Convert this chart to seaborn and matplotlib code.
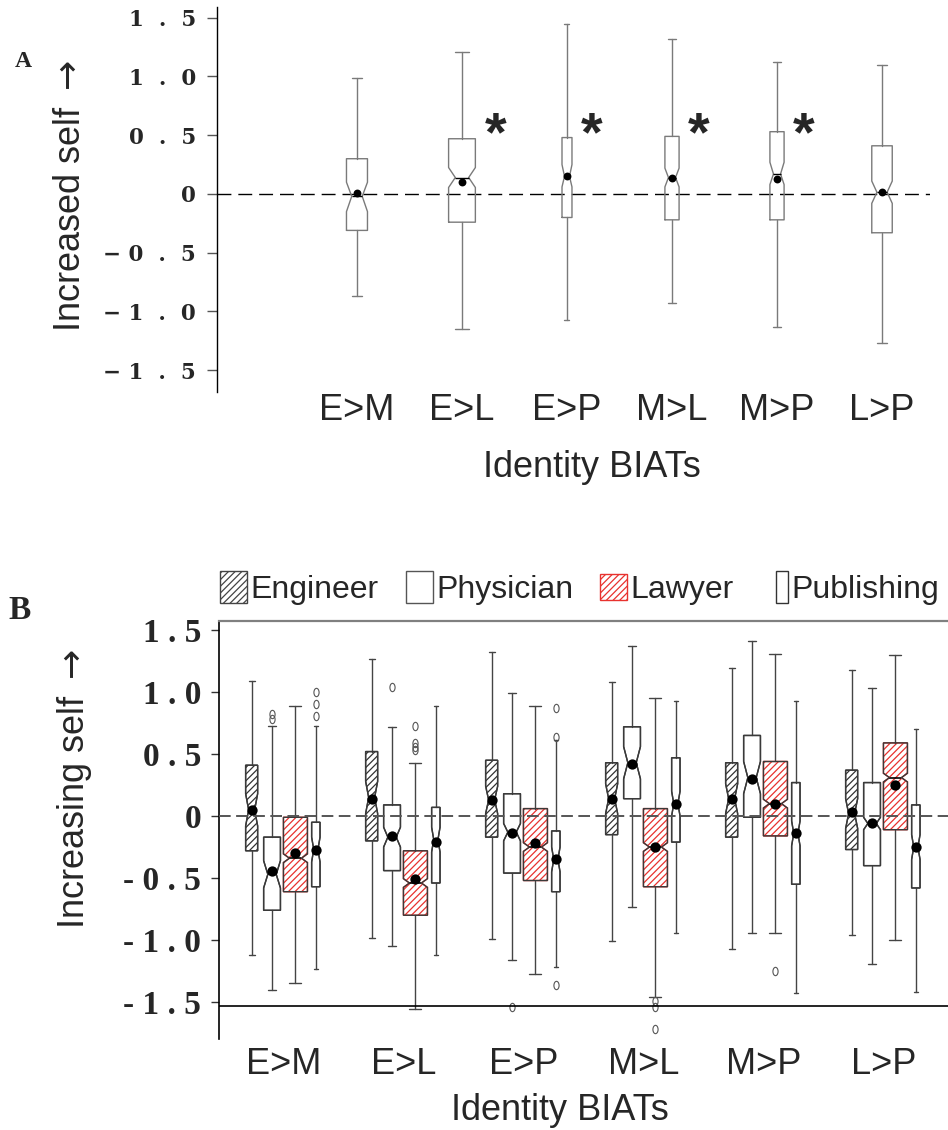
import numpy as np
import matplotlib
matplotlib.use("Agg")
import matplotlib.pyplot as plt
import seaborn as sns
from matplotlib.patches import Patch, PathPatch, Rectangle
from matplotlib.path import Path
from matplotlib.transforms import Affine2D
from matplotlib.legend_handler import HandlerPatch

sns.set_style("white")
plt.rcParams['font.family'] = ['Liberation Sans', 'DejaVu Sans']
plt.rcParams['hatch.linewidth'] = 0.9
plt.rcParams['mathtext.fontset'] = 'dejavusans'

# ---- panel A: identity BIATs, all participants
biats = ['E>M', 'E>L', 'E>P', 'M>L', 'M>P', 'L>P']
a_whislo = [-0.87, -1.15, -1.07, -0.93, -1.13, -1.27]
a_q1 = [-0.31, -0.24, -0.20, -0.22, -0.22, -0.33]
a_med = [-0.02, 0.14, 0.15, 0.14, 0.17, 0.015]
a_q3 = [0.30, 0.47, 0.48, 0.49, 0.53, 0.41]
a_whishi = [0.99, 1.21, 1.45, 1.32, 1.12, 1.10]
a_cilo = [-0.15, 0.055, 0.06, 0.06, 0.08, -0.08]
a_cihi = [0.10, 0.225, 0.25, 0.22, 0.27, 0.11]
a_mean = [0.01, 0.10, 0.15, 0.14, 0.13, 0.02]
a_width = [0.20, 0.255, 0.095, 0.135, 0.135, 0.195]
a_signif = [False, True, True, True, True, False]

# ---- panel B: by career (rows) x BIAT (columns)
careers = ['Engineer', 'Physician', 'Lawyer', 'Publishing']
b_whishi = [[1.09, 1.27, 1.32, 1.08, 1.19, 1.18],
            [0.73, 0.72, 0.99, 1.37, 1.41, 1.03],
            [0.89, 0.43, 0.89, 0.95, 1.31, 1.30],
            [0.73, 0.89, 0.61, 0.93, 0.93, 0.70]]
b_q3 = [[0.41, 0.52, 0.45, 0.43, 0.43, 0.37],
        [-0.17, 0.09, 0.18, 0.72, 0.65, 0.27],
        [-0.01, -0.28, 0.06, 0.06, 0.44, 0.59],
        [-0.05, 0.07, -0.12, 0.47, 0.27, 0.09]]
b_med = [[0.05, 0.15, 0.13, 0.14, 0.14, 0.02],
         [-0.47, -0.17, -0.13, 0.43, 0.31, -0.06],
         [-0.34, -0.54, -0.25, -0.25, 0.10, 0.31],
         [-0.27, -0.19, -0.35, 0.10, -0.14, -0.25]]
b_q1 = [[-0.28, -0.20, -0.17, -0.15, -0.17, -0.27],
        [-0.76, -0.44, -0.46, 0.14, -0.01, -0.40],
        [-0.61, -0.80, -0.52, -0.57, -0.16, -0.11],
        [-0.57, -0.54, -0.61, -0.21, -0.55, -0.58]]
b_whislo = [[-1.12, -0.98, -0.99, -1.01, -1.07, -0.96],
            [-1.40, -1.05, -1.16, -0.73, -0.94, -1.19],
            [-1.35, -1.56, -1.27, -1.46, -0.94, -1.00],
            [-1.23, -1.12, -1.22, -0.94, -1.43, -1.42]]
b_mean = [[0.05, 0.14, 0.13, 0.14, 0.14, 0.03],
          [-0.44, -0.16, -0.14, 0.42, 0.30, -0.06],
          [-0.30, -0.51, -0.22, -0.25, 0.10, 0.25],
          [-0.27, -0.21, -0.35, 0.10, -0.14, -0.25]]
b_ci = [[0.13, 0.13, 0.11, 0.12, 0.12, 0.12],
        [0.11, 0.08, 0.07, 0.13, 0.13, 0.05],
        [0.035, 0.035, 0.035, 0.035, 0.035, 0.035],
        [0.10, 0.10, 0.10, 0.10, 0.10, 0.10]]
b_fliers = [[[], [], [], [], [], []],
            [[0.82, 0.78], [1.04], [-1.54], [], [], []],
            [[], [0.73, 0.59, 0.56, 0.53], [], [-1.49, -1.54, -1.72], [-1.25], []],
            [[1.00, 0.90, 0.81], [], [0.87, 0.64, -1.36], [], [], []]]

yticks = [1.5, 1.0, 0.5, 0, -0.5, -1.0, -1.5]
a_ytick_labels = ['1  .  5', '1  .  0', '0  .  5', '0',
                  '\u2212 0  .  5', '\u2212 1  .  0', '\u2212 1  .  5']
b_ytick_labels = ['1 . 5', '1 . 0', '0 . 5', '0', '- 0 . 5', '- 1 . 0', '- 1 . 5']

# style per career
b_offsets = [-0.27, -0.10, 0.095, 0.265]
b_widths = [0.10, 0.14, 0.20, 0.07]
b_hatch = ['/////', '', '/////', '']
b_hatchcol = ['#333333', '#333333', '#e8322e', '#333333']
red = '#e8322e'

W, H = 948, 1130
fig = plt.figure(figsize=(W / 100, H / 100), dpi=100)


def fig_axes(left, top, right, bottom):
    return fig.add_axes([left / W, 1 - bottom / H, (right - left) / W, (bottom - top) / H])


# ================= Panel A =================
ax_a = fig_axes(217, 7, 930, 392)
pos_a = np.arange(len(biats))
stats_a = [dict(label=b, whislo=a_whislo[i], q1=a_q1[i], med=a_med[i], q3=a_q3[i],
                whishi=a_whishi[i], cilo=a_cilo[i], cihi=a_cihi[i], fliers=[])
           for i, b in enumerate(biats)]
ax_a.axhline(0, color='black', lw=1.0, linestyle=(0, (10, 5)), zorder=1)
ax_a.bxp(stats_a, positions=pos_a, widths=a_width, shownotches=True, showfliers=False,
         boxprops=dict(color='#7a7a7a', lw=1.0),
         whiskerprops=dict(color='#7a7a7a', lw=1.0),
         capprops=dict(color='#7a7a7a', lw=1.0),
         medianprops=dict(color='black', lw=1.0))
sns.scatterplot(x=pos_a, y=a_mean, color='black', s=32, edgecolor='black',
                linewidth=0, zorder=5, legend=False, ax=ax_a)
for i, sig in enumerate(a_signif):
    if sig:
        ax_a.text(pos_a[i] + a_width[i] / 2 + 0.19, 0.37, '*', ha='center', va='baseline',
                  fontsize=40, fontweight='bold', family=['Liberation Sans', 'DejaVu Sans'])

ax_a.set_xlim(-1.333, 5.457)
ax_a.set_ylim(-1.685, 1.591)
ax_a.set_yticks(yticks)
ax_a.set_yticklabels(a_ytick_labels, fontfamily='DejaVu Serif', fontweight='bold', fontsize=15.5)
ax_a.set_xticks(pos_a)
ax_a.set_xticklabels(biats, fontsize=26)
ax_a.tick_params(axis='y', left=True, length=7, width=1, color='#555555', pad=8)
ax_a.tick_params(axis='x', length=0, pad=0.5)
for s in ['top', 'right', 'bottom']:
    ax_a.spines[s].set_visible(False)
ax_a.spines['left'].set_color('black')
ax_a.spines['left'].set_linewidth(1.0)
ax_a.set_xlabel('Identity BIATs', fontsize=26)
ax_a.xaxis.set_label_coords((592 - 217) / 713, (392 - 450) / 385)
ax_a.set_ylabel('Increased self $\\rightarrow$', fontsize=26, va='center')
ax_a.yaxis.set_label_coords((70 - 217) / 713, (392 - 196) / 385)

# ================= Panel B =================
ax_b = fig_axes(219, 621, 948, 1039)
flier_marker = Path.unit_circle().transformed(Affine2D().scale(0.62, 1.0))
grp = np.arange(len(biats))
for k, career in enumerate(careers):
    stats = [dict(whislo=b_whislo[k][j], q1=b_q1[k][j], med=b_med[k][j], q3=b_q3[k][j],
                  whishi=b_whishi[k][j], cilo=b_med[k][j] - b_ci[k][j],
                  cihi=b_med[k][j] + b_ci[k][j], fliers=b_fliers[k][j])
             for j in range(len(biats))]
    pos = grp + b_offsets[k]
    res = ax_b.bxp(stats, positions=pos, widths=b_widths[k], shownotches=True,
                   patch_artist=True,
                   boxprops=dict(facecolor='white', edgecolor=b_hatchcol[k], lw=1.0,
                                 hatch=b_hatch[k] or None),
                   whiskerprops=dict(color='#444444', lw=1.0),
                   capprops=dict(color='#444444', lw=1.0),
                   medianprops=dict(color='black', lw=1.2),
                   flierprops=dict(marker=flier_marker, markersize=6,
                                   markerfacecolor='none', markeredgecolor='#555555',
                                   markeredgewidth=0.8))
    for box in res['boxes']:
        ax_b.add_patch(PathPatch(box.get_path(), fill=False, edgecolor='#3a3a3a',
                                 lw=1.0, zorder=box.get_zorder() + 0.1))
    sns.scatterplot(x=pos, y=b_mean[k], color='black', s=55, edgecolor='black',
                    linewidth=0, zorder=5, legend=False, ax=ax_b)

ax_b.axhline(0, color='#555555', lw=1.4, linestyle=(0, (6, 2.8)), zorder=4)
ax_b.axhline(-1.53, color='black', lw=1.2, zorder=4)
ax_b.set_xlim(-0.542, 5.533)
ax_b.set_ylim(-1.798, 1.573)
ax_b.set_yticks(yticks)
ax_b.set_yticklabels(b_ytick_labels, fontfamily='Liberation Serif', fontweight='bold',
                     fontsize=24)
ax_b.set_xticks(grp)
ax_b.set_xticklabels(biats, fontsize=26)
ax_b.tick_params(axis='y', left=True, length=6, width=1, color='#333333', pad=7)
ax_b.tick_params(axis='x', length=0, pad=6)
ax_b.spines['right'].set_visible(False)
ax_b.spines['bottom'].set_visible(False)
ax_b.spines['left'].set_color('black')
ax_b.spines['left'].set_linewidth(1.2)
ax_b.spines['top'].set_color('#808080')
ax_b.spines['top'].set_linewidth(1.6)
ax_b.set_xlabel('Identity BIATs', fontsize=26)
ax_b.xaxis.set_label_coords((560 - 219) / 729, (1039 - 1093) / 418)
ax_b.set_ylabel('Increasing self $\\rightarrow$', fontsize=26, va='center')
ax_b.yaxis.set_label_coords((75 - 219) / 729, (1039 - 789) / 418)

# legend with per-career handle shapes
handle_shape = {'Engineer': (1.0, 1.0), 'Physician': (1.0, 1.0),
                'Lawyer': (1.0, 0.82), 'Publishing': (0.45, 1.0)}


def make_handle(legend, orig_handle, xdescent, ydescent, width, height, fontsize):
    fw, fh = handle_shape[orig_handle.get_label()]
    w, h = width * fw, height * fh
    return Rectangle((-xdescent + width - w, -ydescent + (height - h) / 2), w, h)


handles = [Patch(facecolor='white', edgecolor='#444444', hatch='/////', label='Engineer'),
           Patch(facecolor='white', edgecolor='#555555', label='Physician'),
           Patch(facecolor='white', edgecolor=red, hatch='/////', label='Lawyer'),
           Patch(facecolor='white', edgecolor='#333333', label='Publishing')]
ax_b.legend(handles=handles, ncol=4, loc='center left', frameon=False,
            bbox_to_anchor=(220 / W, 1 - 588 / H), bbox_transform=fig.transFigure,
            fontsize=23, handlelength=0.85, handleheight=1.15, handletextpad=0.1,
            columnspacing=0.85, borderpad=0, borderaxespad=0,
            handler_map={Patch: HandlerPatch(patch_func=make_handle)})

# panel letters
fig.text(15 / W, 1 - 67 / H, 'A', family='Liberation Serif', fontweight='bold',
         fontsize=17, va='baseline')
fig.text(8 / W, 1 - 619 / H, 'B', family='Liberation Serif', fontweight='bold',
         fontsize=24, va='baseline')

fig.savefig('out.png', dpi=100)
